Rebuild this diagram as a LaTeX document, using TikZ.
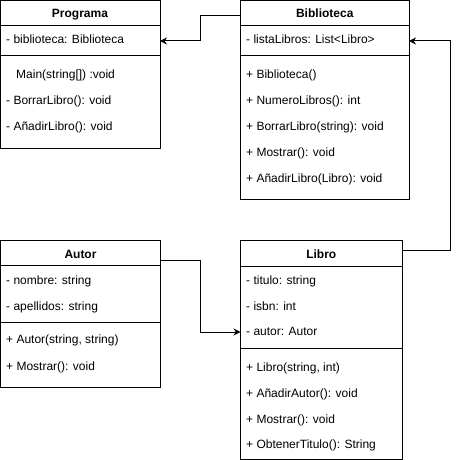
\documentclass[tikz,border=0pt]{standalone}
\usepackage{fontspec}
\setmainfont{Liberation Sans}
\usetikzlibrary{arrows.meta}
\begin{document}
\begin{tikzpicture}[x=1pt,y=-1pt,
  box/.style={draw, line width=1pt, anchor=north west, inner sep=0pt, outer sep=0pt},
  row/.style={anchor=west, inner sep=0pt, text height=9pt, text depth=3pt, font=\fontsize{12}{14}\selectfont},
  head/.style={anchor=center, inner sep=0pt, text height=9pt, text depth=3pt, font=\fontsize{12}{14}\selectfont\bfseries},
  sep/.style={line width=1pt},
  arr/.style={line width=1pt, -{Stealth[length=7pt,width=7pt]}}]
\useasboundingbox (0,0) rectangle (460,460);
% Programa
\node[box, minimum width=159.5pt, minimum height=147.5pt] (prog) at (0.5,0.5) {};
\draw[sep] (0.5,26) -- (160,26);
\draw[sep] (0.5,56) -- (160,56);
\node[head] (progh) at (80,15) {Programa};
\node[row] (proga) at (6,41) {- biblioteca: Biblioteca};
\node[row] (progm1) at (16,75) {Main(string[]) :void};
\node[row] (progm2) at (6,101) {- BorrarLibro(): void};
\node[row] (progm3) at (6,127) {- AñadirLibro(): void};
% Biblioteca
\node[box, minimum width=168.5pt, minimum height=198.5pt] (bib) at (240.5,0.5) {};
\draw[sep] (240.5,26) -- (409,26);
\draw[sep] (240.5,56) -- (409,56);
\node[head] (bibh) at (324.75,15) {Biblioteca};
\node[row] (biba) at (246,41) {- listaLibros: List<Libro>};
\node[row] (bibm1) at (246,75) {+ Biblioteca()};
\node[row] (bibm2) at (246,101) {+ NumeroLibros(): int};
\node[row] (bibm3) at (246,127) {+ BorrarLibro(string): void};
\node[row] (bibm4) at (246,153) {+ Mostrar(): void};
\node[row] (bibm5) at (246,179) {+ AñadirLibro(Libro): void};
% Autor
\node[box, minimum width=160pt, minimum height=147pt] (aut) at (0.5,240) {};
\draw[sep] (0.5,265.5) -- (160.5,265.5);
\draw[sep] (0.5,322) -- (160.5,322);
\node[head] (auth) at (80.5,255) {Autor};
\node[row] (auta1) at (6,281) {- nombre: string};
\node[row] (auta2) at (6,307) {- apellidos: string};
\node[row] (autm1) at (6,340) {+ Autor(string, string)};
\node[row] (autm2) at (6,367) {+ Mostrar(): void};
% Libro
\node[box, minimum width=161.5pt, minimum height=219pt] (lib) at (240.5,240) {};
\draw[sep] (240.5,266) -- (402,266);
\draw[sep] (240.5,348) -- (402,348);
\node[head] (libh) at (321.25,255) {Libro};
\node[row] (liba1) at (246,281) {- titulo: string};
\node[row] (liba2) at (246,307) {- isbn: int};
\node[row] (liba3) at (246,332) {- autor: Autor};
\node[row] (libm1) at (246,368) {+ Libro(string, int)};
\node[row] (libm2) at (246,394) {+ AñadirAutor(): void};
\node[row] (libm3) at (246,420) {+ Mostrar(): void};
\node[row] (libm4) at (246,445) {+ ObtenerTitulo(): String};
% connectors
\draw[arr] ([yshift=-15.5pt]bib.north west) -- ++(-40,0) |- (prog.east |- proga.center);
\draw[arr] ([yshift=-20pt]aut.north east) -- ++(40,0) |- (lib.west |- liba3.center);
\draw[arr] ([yshift=-10pt]lib.north east) -- (450.5,250) |- (bib.east |- biba.center);
\end{tikzpicture}
\end{document}
